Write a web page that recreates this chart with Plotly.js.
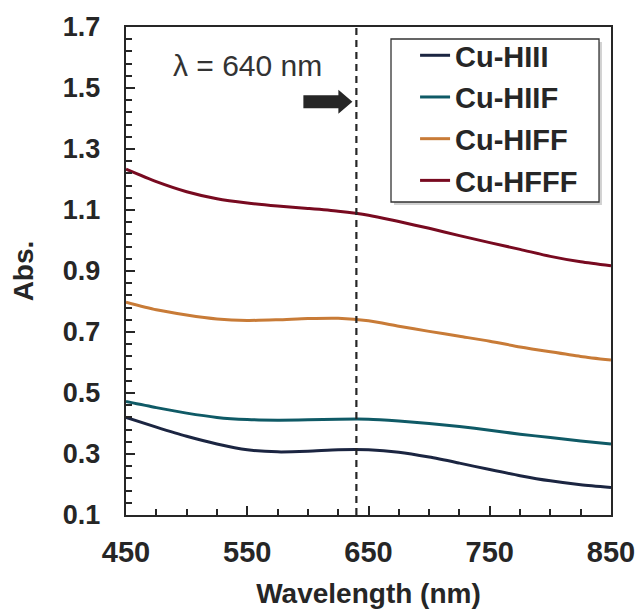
<!DOCTYPE html>
<html>
<head>
<meta charset="utf-8">
<script src="https://cdn.plot.ly/plotly-3.0.1.min.js"></script>
<style>html,body{margin:0;padding:0;background:#fff;}#chart{width:641px;height:609px;}</style>
</head>
<body>
<div id="chart"></div>
<script>
const wavelength = [450, 475, 500, 525, 550, 575, 600, 625, 650, 675, 700, 725, 750, 775, 800, 825, 850];
const cuHIII = [0.420, 0.388, 0.358, 0.333, 0.314, 0.307, 0.309, 0.314, 0.314, 0.306, 0.290, 0.270, 0.249, 0.229, 0.212, 0.199, 0.190];
const cuHIIF = [0.472, 0.452, 0.434, 0.420, 0.413, 0.411, 0.412, 0.414, 0.414, 0.408, 0.400, 0.390, 0.378, 0.365, 0.354, 0.343, 0.333];
const cuHIFF = [0.798, 0.773, 0.756, 0.743, 0.738, 0.740, 0.744, 0.745, 0.737, 0.719, 0.702, 0.686, 0.670, 0.651, 0.635, 0.620, 0.608];
const cuHFFF = [1.234, 1.193, 1.160, 1.137, 1.123, 1.113, 1.105, 1.096, 1.083, 1.062, 1.040, 1.016, 0.993, 0.971, 0.948, 0.930, 0.917];
const seriesNames = ["Cu-HIII", "Cu-HIIF", "Cu-HIFF", "Cu-HFFF"];
const seriesColors = ["#1b2541", "#0f5a66", "#c87b37", "#780a20"];
const markerWavelength = 640;
const markerLabel = "λ = 640 nm";
const arrowY = 1.455;

const seriesValues = [cuHIII, cuHIIF, cuHIFF, cuHFFF];
const txt = "#262626";
const font = "Liberation Sans, Arial, sans-serif";

const traces = seriesValues.map((vals, i) => ({
  x: wavelength, y: vals, type: "scatter", mode: "lines",
  name: seriesNames[i], legendgroup: "g" + i,
  line: {color: seriesColors[i], width: 3, shape: "spline", smoothing: 0.7}
}));

const layout = {
  width: 641, height: 609,
  margin: {l: 126, r: 30, t: 27, b: 94},
  paper_bgcolor: "#fff", plot_bgcolor: "#fff",
  font: {family: font, color: txt},
  showlegend: true,
  legend: {
    x: 0.596, y: 0.994, xanchor: "left", yanchor: "top",
    bgcolor: "rgba(0,0,0,0)", borderwidth: 0,
    font: {family: font, size: 29, color: txt, weight: "bold"},
    tracegroupgap: 1
  },
  xaxis: {
    range: [450, 850], tick0: 450, dtick: 100,
    ticks: "inside", ticklen: 9, tickwidth: 2, tickcolor: txt,
    showline: true, linewidth: 2.3, linecolor: txt, mirror: true,
    showgrid: false, zeroline: false,
    tickfont: {family: font, size: 29, color: txt, weight: "bold"},
    minor: {dtick: 25, tick0: 450, ticks: "inside", ticklen: 6, tickwidth: 2, tickcolor: txt, showgrid: false},
    ticklabelstandoff: 10,
    title: {text: "Wavelength (nm)", font: {family: font, size: 28, color: txt, weight: "bold"}, standoff: 16}
  },
  yaxis: {
    range: [0.1, 1.7], tick0: 0.1, dtick: 0.2, tickformat: ".1f",
    ticks: "inside", ticklen: 9, tickwidth: 2, tickcolor: txt,
    showline: true, linewidth: 2.3, linecolor: txt, mirror: true,
    showgrid: false, zeroline: false,
    tickfont: {family: font, size: 27, color: txt, weight: "bold"},
    minor: {dtick: 0.04, tick0: 0.1, ticks: "inside", ticklen: 6, tickwidth: 2, tickcolor: txt, showgrid: false},
    ticklabelstandoff: 18,
    title: {text: "Abs.", font: {family: font, size: 28, color: txt, weight: "bold"}, standoff: 21}
  },
  shapes: [
    {type: "line", xref: "x", yref: "paper", x0: markerWavelength, x1: markerWavelength, y0: 0, y1: 1,
     line: {color: txt, width: 2.2, dash: "7px,5px"}},
    {type: "path", xref: "x", yref: "y", xsizemode: "pixel", ysizemode: "pixel",
     xanchor: markerWavelength, yanchor: arrowY,
     path: "M -53,-6.5 L -18,-6.5 L -18,-12 L -4,0 L -18,12 L -18,6.5 L -53,6.5 Z",
     fillcolor: txt, line: {width: 0}},
    {type: "rect", xref: "paper", yref: "paper", x0: 0.5526, x1: 0.9814, y0: 0.6352, y1: 0.9693,
     fillcolor: "rgba(0,0,0,0.18)", line: {width: 0}, layer: "above"},
    {type: "rect", xref: "paper", yref: "paper", x0: 0.5464, x1: 0.9753, y0: 0.6414, y1: 0.9754,
     fillcolor: "#fff", line: {color: "#333", width: 1.3}, layer: "above"}
  ],
  annotations: [
    {x: 550.6, y: 1.575, xref: "x", yref: "y", text: markerLabel, showarrow: false,
     font: {family: font, size: 30, color: "#333"}}
  ]
};

Plotly.newPlot("chart", traces, layout, {displayModeBar: false, staticPlot: true});
</script>
</body>
</html>
